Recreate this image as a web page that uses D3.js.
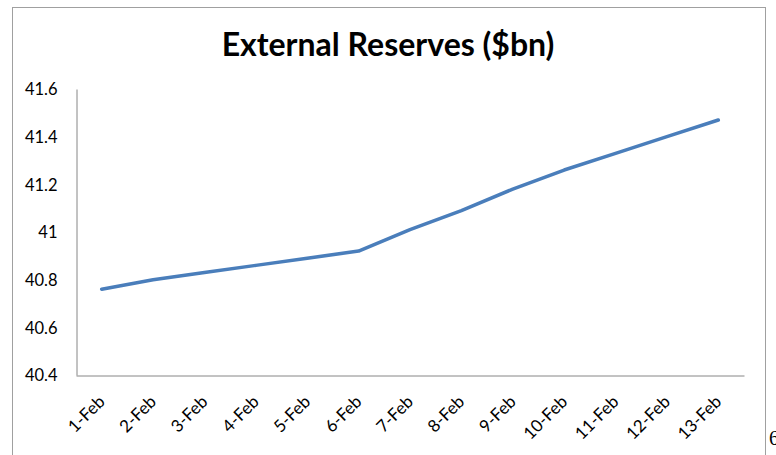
<!DOCTYPE html>
<html>
<head>
<meta charset="utf-8">
<script src="https://cdn.jsdelivr.net/npm/d3@7"></script>
<style>
  body { margin: 0; background: #fff; }
  svg { display: block; }
</style>
</head>
<body>
<div id="chart"></div>
<script>
const dates = ['1-Feb', '2-Feb', '3-Feb', '4-Feb', '5-Feb', '6-Feb', '7-Feb',
  '8-Feb', '9-Feb', '10-Feb', '11-Feb', '12-Feb', '13-Feb'];
const reserves = [40.76, 40.80, 40.83, 40.86, 40.89, 40.92, 41.01,
  41.09, 41.18, 41.26, 41.33, 41.40, 41.47];
const yTicks = [40.4, 40.6, 40.8, 41, 41.2, 41.4, 41.6];

const width = 776;
const height = 455;

const svg = d3.select('#chart')
  .append('svg')
  .attr('width', width)
  .attr('height', height);

// chart frame (runs off the bottom of the picture)
svg.append('rect')
  .attr('x', 12.5)
  .attr('y', 7.5)
  .attr('width', 753)
  .attr('height', 470)
  .attr('fill', 'none')
  .attr('stroke', '#a0a0a0');

// plot area
const plotLeft = 76;
const plotRight = 744;
const plotTop = 89;
const plotBottom = 375;

const xScale = d3.scaleBand().range([plotLeft, plotRight]).domain(dates);
const yScale = d3.scaleLinear().range([plotBottom, plotTop]).domain([40.4, 41.6]);

const yAxis = d3.axisLeft(yScale).tickValues(yTicks).tickSize(0).tickPadding(19)
  .tickFormat(d3.format('~g'));
const xAxis = d3.axisBottom(xScale).tickSize(0).tickPadding(0);

const gy = svg.append('g').attr('transform', `translate(${plotLeft + 0.5}, 0)`).call(yAxis);
const gx = svg.append('g').attr('transform', `translate(0, ${plotBottom + 0.5})`).call(xAxis);

[gx, gy].forEach((g) => {
  g.select('.domain').attr('stroke', '#868686');
  g.selectAll('text')
    .attr('font-family', 'Lato, "Open Sans", sans-serif')
    .attr('fill', '#000');
});
gy.selectAll('text').attr('font-size', 16.5).attr('dy', '0.36em');
gx.selectAll('text')
  .attr('font-size', 17)
  .attr('text-anchor', 'end')
  .attr('transform', 'translate(0, 23) rotate(-45)')
  .attr('dy', '0.35em')
  .attr('y', 0);

// title
svg.append('text')
  .attr('x', 388)
  .attr('y', 56)
  .attr('text-anchor', 'middle')
  .attr('font-family', 'Lato, "Open Sans", sans-serif')
  .attr('font-weight', 'bold')
  .attr('font-size', 32)
  .text('External Reserves ($bn)');

// line
const line = d3.line()
  .x((d, i) => xScale(dates[i]) + xScale.bandwidth() / 2)
  .y((d) => yScale(d));

svg.append('path')
  .datum(reserves)
  .attr('d', line)
  .attr('fill', 'none')
  .attr('stroke', '#4a7ebb')
  .attr('stroke-width', 3.5)
  .attr('stroke-linecap', 'round')
  .attr('stroke-linejoin', 'round');

// stray character of the neighbouring text at the right edge
svg.append('text')
  .attr('x', 769)
  .attr('y', 445)
  .attr('font-family', '"Liberation Serif", serif')
  .attr('font-size', 20)
  .text('6');
</script>
</body>
</html>
